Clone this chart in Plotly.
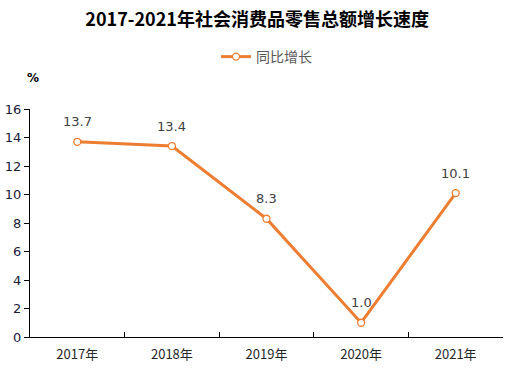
import plotly.graph_objects as go

years = ["2017年", "2018年", "2019年", "2020年", "2021年"]
growth = [13.7, 13.4, 8.3, 1.0, 10.1]
growth_labels = ["13.7", "13.4", "8.3", "1.0", "10.1"]

fig = go.Figure()
fig.add_trace(go.Scatter(
    x=years, y=growth, mode="lines+markers", name="同比增长",
    line=dict(color="#ED7D31", width=3),
    marker=dict(symbol="circle", size=7, color="white", line=dict(color="#ED7D31", width=1.3)),
    cliponaxis=False,
))

annotations = [
    dict(x=xv, y=yv, text=t, xref="x", yref="y", showarrow=False, yshift=20,
         font=dict(size=13, color="#404040", family="DejaVu Sans"))
    for xv, yv, t in zip(years, growth, growth_labels)
]
annotations.append(dict(text="<b>%</b>", xref="paper", yref="paper", x=-0.01, y=1.136,
                        xanchor="left", yanchor="middle", showarrow=False,
                        font=dict(size=12, color="black")))

fig.update_layout(
    width=528, height=380,
    margin=dict(l=30, r=25, t=109, b=43, autoexpand=False),
    paper_bgcolor="white", plot_bgcolor="white",
    font=dict(family="DejaVu Sans, Noto Sans CJK SC", color="#262626", size=13),
    title=dict(text="<b>2017-2021年社会消费品零售总额增长速度</b>", x=0.487, xanchor="center",
               xref="container", yref="container", y=0.947, yanchor="middle",
               font=dict(size=18, color="black", family="Noto Sans CJK SC")),
    showlegend=True,
    legend=dict(orientation="h", x=0.5, xanchor="center", y=1.228, yanchor="middle",
                font=dict(size=14, color="#595959", family="Noto Sans CJK SC")),
    annotations=annotations,
)
fig.update_xaxes(
    range=[-0.5, 4.5],
    showline=True, linecolor="black", linewidth=1,
    ticks="inside", tickson="boundaries", ticklen=5, tickcolor="black",
    ticklabelstandoff=5,
    showgrid=False, tickfont=dict(size=13, family="Noto Sans CJK SC", color="#262626"),
)
fig.update_yaxes(
    range=[0, 16], dtick=2, showline=True, linecolor="black", linewidth=1,
    ticks="outside", ticklen=5, tickcolor="black", showgrid=False, zeroline=False,
    tickfont=dict(size=13, color="#1a1a3a"),
)

fig.write_html("out.html", config={"displayModeBar": False},
               post_script="document.body.style.margin='0';")
